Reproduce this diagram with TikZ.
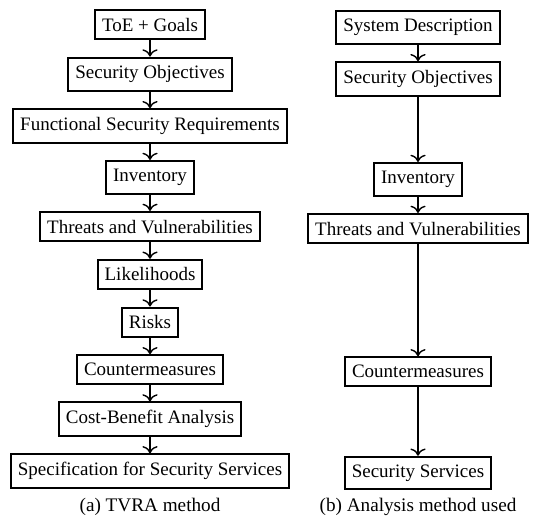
\documentclass[tikz,border=0pt]{standalone}
\usepackage{fontspec}
\setmainfont{Liberation Serif}
\usepackage{tikz}
\usetikzlibrary{arrows.meta, positioning}

\tikzset{
  stepbox/.style={draw, line width=1pt, inner xsep=3.5pt, inner ysep=4pt,
    font=\fontsize{9.5}{11}\selectfont},
  flow/.style={->, line width=0.7pt},
  subcap/.style={font=\fontsize{9.6}{11}\selectfont}
}

\begin{document}
\begin{tikzpicture}[>={To[scale=1.15]}, x=0.5pt, y=-0.5pt,
    node distance=8.2pt]
  \useasboundingbox (0,0) rectangle (534,521);

  % (a) TVRA method
  \node[stepbox] (toe) at (150,24.5) {ToE + Goals};
  \node[stepbox, below=of toe]      (objA)     {Security Objectives};
  \node[stepbox, below=of objA]     (fsr)      {Functional Security Requirements};
  \node[stepbox, below=of fsr]      (invA)     {Inventory};
  \node[stepbox, below=of invA]     (threatA)  {Threats and Vulnerabilities};
  \node[stepbox, below=of threatA]  (likely)   {Likelihoods};
  \node[stepbox, below=of likely]   (risks)    {Risks};
  \node[stepbox, below=of risks]    (counterA) {Countermeasures};
  \node[stepbox, below=of counterA] (cba)      {Cost-Benefit Analysis};
  \node[stepbox, below=of cba]      (spec)     {Specification for Security Services};
  \node[subcap] (capA) at (150,507) {(a) TVRA method};

  \draw[flow] (toe) -- (objA);
  \draw[flow] (objA) -- (fsr);
  \draw[flow] (fsr) -- (invA);
  \draw[flow] (invA) -- (threatA);
  \draw[flow] (threatA) -- (likely);
  \draw[flow] (likely) -- (risks);
  \draw[flow] (risks) -- (counterA);
  \draw[flow] (counterA) -- (cba);
  \draw[flow] (cba) -- (spec);

  % (b) Analysis method used, rows lined up with (a)
  \node[stepbox] (sysdesc) at (418,27.5) {System Description};
  \node[stepbox, below=of sysdesc] (objB) {Security Objectives};
  \node[stepbox, yshift=-1pt] (invB)     at (sysdesc |- invA)     {Inventory};
  \node[stepbox, yshift=-1pt] (threatB)  at (sysdesc |- threatA)  {Threats and Vulnerabilities};
  \node[stepbox, yshift=-1pt] (counterB) at (sysdesc |- counterA) {Countermeasures};
  \node[stepbox, yshift=-1pt] (services) at (sysdesc |- spec)     {Security Services};
  \node[subcap] (capB) at (418,507) {(b) Analysis method used};

  \draw[flow] (sysdesc) -- (objB);
  \draw[flow] (objB) -- (invB);
  \draw[flow] (invB) -- (threatB);
  \draw[flow] (threatB) -- (counterB);
  \draw[flow] (counterB) -- (services);
\end{tikzpicture}
\end{document}
